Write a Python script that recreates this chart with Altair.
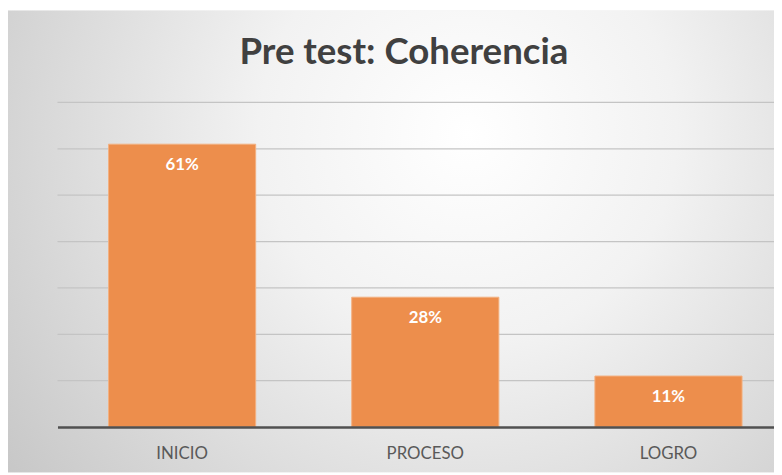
import altair as alt
import pandas as pd

categories = ["INICIO", "PROCESO", "LOGRO"]
values = [61, 28, 11]
labels = ["61%", "28%", "11%"]
grid_ticks = [10, 20, 30, 40, 50, 60, 70]
title_text = ["Pre test: Coherencia"]

W, H = 724, 328
PAD = {"left": 50, "top": 93, "right": 0, "bottom": 46}

bars_df = pd.DataFrame({"cat": categories, "val": values, "lab": labels})
grid_df = pd.DataFrame({"t": grid_ticks})
bg_df = pd.DataFrame({"a": [0]})
title_df = pd.DataFrame({"title": title_text})

xscale = alt.Scale(domain=categories, paddingInner=0.395, paddingOuter=0.1707, align=0.615)
yscale = alt.Scale(domain=[0, 70], nice=False)

bg = alt.Chart(bg_df).mark_rect(
    fill=alt.RadialGradient(
        gradient="radial",
        x1=0.6, y1=0.36, r1=0.0,
        x2=0.6, y2=0.36, r2=0.78,
        stops=[
            alt.GradientStop(offset=0, color="#ffffff"),
            alt.GradientStop(offset=0.35, color="#f2f2f2"),
            alt.GradientStop(offset=1, color="#c4c4c4"),
        ],
    )
).encode(
    x=alt.value(-PAD["left"]), x2=alt.value(W),
    y=alt.value(-PAD["top"]), y2=alt.value(H + PAD["bottom"]),
)

title = alt.Chart(title_df).mark_text(
    font="Lato", fontSize=37, fontWeight="bold", color="#404040",
    align="center", baseline="alphabetic",
).encode(
    x=alt.value(350), y=alt.value(-39), text="title:N",
)

grid = alt.Chart(grid_df).mark_rule(color="#c4c4c4", strokeWidth=1.2).encode(
    y=alt.Y("t:Q", scale=yscale, axis=None),
    x=alt.value(0), x2=alt.value(W),
)

bars = alt.Chart(bars_df).mark_bar(color="#ED8E4C", stroke="#F3B07F", strokeWidth=1).encode(
    x=alt.X("cat:N", scale=xscale, sort=categories,
            axis=alt.Axis(title=None, labelAngle=0, ticks=False, labelPadding=19,
                          labelFont="Lato", labelFontSize=17, labelColor="#595959",
                          domainColor="#505050", domainWidth=2.5, zindex=1)),
    y=alt.Y("val:Q", scale=yscale, axis=None),
)

text = alt.Chart(bars_df).mark_text(
    color="white", font="Lato", fontWeight="bold", fontSize=17, baseline="middle", dy=21
).encode(
    x=alt.X("cat:N", scale=xscale, sort=categories),
    y=alt.Y("val:Q", scale=yscale),
    text="lab:N",
)

chart = alt.layer(bg, title, grid, bars, text).properties(
    width=W, height=H,
    padding=PAD,
    autosize=alt.AutoSizeParams(type="none"),
).configure_view(stroke=None).configure(background="white")

chart.save("out.html", embed_options={"renderer": "svg", "actions": False})
